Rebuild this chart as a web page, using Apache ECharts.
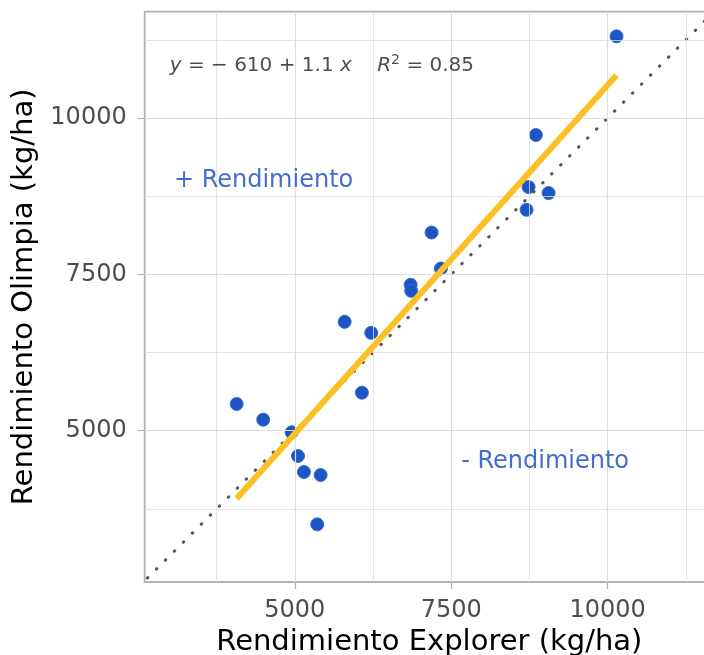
<!DOCTYPE html>
<html><head><meta charset="utf-8">
<script src="https://cdn.jsdelivr.net/npm/echarts@6/dist/echarts.min.js"></script>
<style>html,body{margin:0;padding:0;background:#fff}#c{width:704px;height:655px}</style>
</head><body><div id="c"></div>
<script>
// Data
const explorer = [10142, 8853, 8736, 9056, 8704, 7186, 7335, 6851, 6860, 5796, 6221, 6072, 4070, 4495, 4949, 5050, 5145, 5412, 5358];
const olimpia  = [11306, 9728, 8896, 8800, 8532, 8169, 7593, 7332, 7236, 6740, 6564, 5608, 5427, 5176, 4974, 4595, 4339, 4291, 3502];
const fitX = [4070, 10142];
const fitY = [3915, 10684];
const refXY = [2500, 11800];
const tickValues = [5000, 7500, 10000];
const minorValues = [3750, 6250, 8750, 11250];
const xRange = [2600, 11700];
const yRange = [2580, 11700];
const annoText = ['+ Rendimiento', '- Rendimiento'];
const annoX = [4500, 9000];
const annoY = [9000, 4500];
const eqPos = [3000, 10840];

const FONT = 'DejaVu Sans';
const gridColor = '#dedede';
const borderColor = '#b3b3b3';

const points = explorer.map((x, i) => [x, olimpia[i]]);
const gridLines = [];
tickValues.concat(minorValues).forEach(v => {
  gridLines.push({xAxis: v, lineStyle: {width: tickValues.includes(v) ? 1.2 : 0.8}});
  gridLines.push({yAxis: v, lineStyle: {width: tickValues.includes(v) ? 1.2 : 0.8}});
});

const chart = echarts.init(document.getElementById('c'), null, {renderer: 'canvas'});
chart.setOption({
  animation: false,
  backgroundColor: '#fff',
  grid: {left: 144.7, top: 11.7, width: 569.3, height: 570.3, outerBoundsMode: 'none', containLabel: false,
    show: true, borderColor: borderColor, borderWidth: 1.8, backgroundColor: 'transparent'},
  xAxis: {
    type: 'value', min: xRange[0], max: xRange[1],
    name: 'Rendimiento Explorer (kg/ha)', nameLocation: 'middle', nameGap: 45,
    nameTextStyle: {fontFamily: FONT, fontSize: 29, color: '#000'},
    axisLine: {show: false},
    splitLine: {show: false},
    axisTick: {show: true, customValues: tickValues, length: 7, lineStyle: {color: borderColor, width: 1.2}},
    axisLabel: {customValues: tickValues, formatter: v => String(v), fontFamily: FONT, fontSize: 24, color: '#4d4d4d', margin: 17}
  },
  yAxis: {
    type: 'value', min: yRange[0], max: yRange[1],
    name: 'Rendimiento Olimpia (kg/ha)', nameLocation: 'middle', nameGap: 103,
    nameTextStyle: {fontFamily: FONT, fontSize: 29, color: '#000'},
    axisLine: {show: false},
    splitLine: {show: false},
    axisTick: {show: true, customValues: tickValues, length: 7, lineStyle: {color: borderColor, width: 1.2}},
    axisLabel: {customValues: tickValues, formatter: v => String(v), fontFamily: FONT, fontSize: 24, color: '#4d4d4d', margin: 18}
  },
  series: [
    {
      type: 'line', data: [[xRange[0], yRange[0]]], symbol: 'none', z: 1, silent: true,
      lineStyle: {width: 0},
      markLine: {silent: true, symbol: 'none', label: {show: false}, animation: false,
        lineStyle: {color: gridColor, type: 'solid'}, data: gridLines}
    },
    {
      type: 'scatter', data: points, symbolSize: 13, z: 3,
      itemStyle: {color: '#1c55c4', borderColor: '#3a6ccd', borderWidth: 1, opacity: 1}
    },
    {
      type: 'line', data: refXY.map(v => [v, v]), symbol: 'none', z: 4, clip: true,
      lineStyle: {color: '#555555', width: 3, type: [0.5, 12.2], cap: 'round'}
    },
    {
      type: 'line', data: fitX.map((x, i) => [x, fitY[i]]), symbol: 'none', z: 5,
      lineStyle: {color: '#fdbf26', width: 6, cap: 'butt'}
    },
    {
      type: 'scatter', symbolSize: 0, z: 6, silent: true,
      data: annoText.map((t, i) => ({name: t, value: [annoX[i], annoY[i]]})),
      label: {show: true, position: 'inside', formatter: '{b}', fontFamily: FONT, fontSize: 24, color: '#1749bb'}
    },
    {
      type: 'scatter', symbolSize: 0, z: 6, silent: true,
      data: [{value: eqPos}],
      label: {show: true, position: [0, 0], align: 'left', verticalAlign: 'middle',
        formatter: '{i|y} = \u2212 610 + 1.1 {i|x}    {i|R}{sup|2} = 0.85',
        fontFamily: FONT, fontSize: 20, color: '#222',
        rich: {
          i: {fontStyle: 'italic', fontFamily: FONT, fontSize: 20, color: '#222'},
          sup: {fontFamily: FONT, fontSize: 14, color: '#222', verticalAlign: 'top', padding: [0, 0, 10, 0]}
        }}
    }
  ]
});
</script></body></html>
